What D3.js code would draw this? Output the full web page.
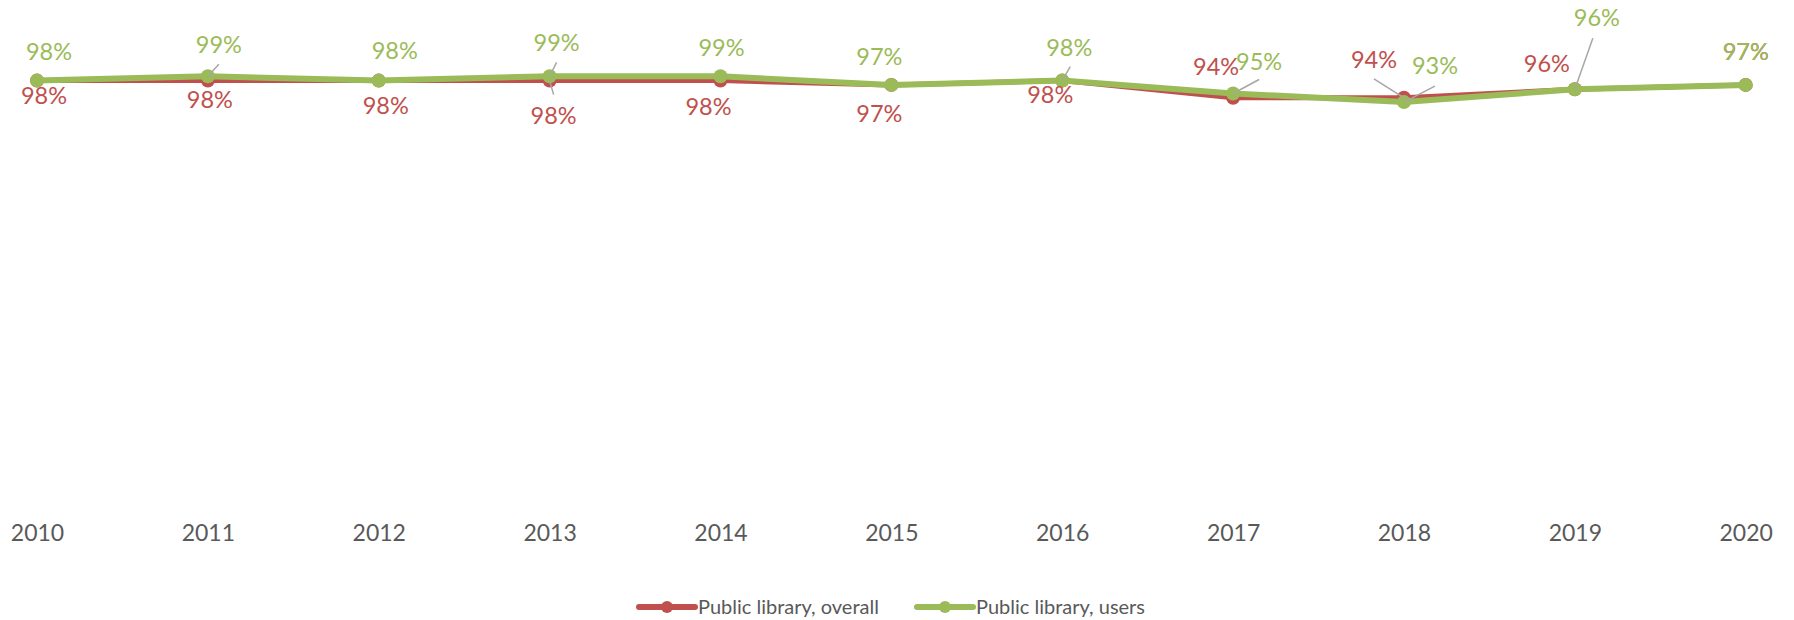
<!DOCTYPE html>
<html>
<head>
<meta charset="utf-8">
<script src="https://cdn.jsdelivr.net/npm/d3@7"></script>
<style>
  body { margin: 0; background: #fff; }
  svg { display: block; font-family: Lato, "Open Sans", sans-serif; }
</style>
</head>
<body>
<svg id="chart" width="1794" height="620"></svg>
<script>
const years = [2010, 2011, 2012, 2013, 2014, 2015, 2016, 2017, 2018, 2019, 2020];
const overall = [98, 98, 98, 98, 98, 97, 98, 94, 94, 96, 97];
const users = [98, 99, 98, 99, 99, 97, 98, 95, 93, 96, 97];
const seriesNames = ["Public library, overall", "Public library, users"];

// manual label placement (px from the point), like the hand-moved Excel labels
const overallLabelPos = [[7, 23], [2, 27], [7, 33], [4, 43], [-12, 34], [-12, 37], [-12, 22], [-17, -23], [-30, -30], [-28, -17], [0, -25]];
const usersLabelPos = [[12, -21], [11, -23], [16, -22], [7, -25], [1, -20], [-12, -20], [7, -25], [26, -24], [31, -28], [22, -63], [0, -25]];
const overallLeaders = [null, null, null, [4, 14], null, null, null, null, [-30, -19], null, null];
const usersLeaders = [null, [11, -12], null, [7, -14], null, null, [8, -14], [26, -14], [31, -16], [18, -51], null];

const red = "#C0504D", green = "#9BBB59";

const svg = d3.select("#chart");

const x = d3.scalePoint()
    .domain(years)
    .range([37, 1745.7]);

const y = d3.scaleLinear()
    .domain([0, 100])
    .range([502, 72]);

// category axis, no line, no ticks
const xAxis = svg.append("g")
    .attr("transform", "translate(0,502)")
    .call(d3.axisBottom(x).tickSize(0).tickPadding(23));
xAxis.select(".domain").remove();
xAxis.selectAll("text")
    .attr("font-size", 23)
    .attr("font-family", "Lato, 'Open Sans', sans-serif")
    .attr("fill", "#595959");

const series = [
    { name: seriesNames[0], values: overall, color: red, width: 5, pos: overallLabelPos, leaders: overallLeaders },
    { name: seriesNames[1], values: users, color: green, width: 6, pos: usersLabelPos, leaders: usersLeaders }
];

const line = d3.line()
    .x((d, i) => x(years[i]))
    .y(d => y(d));

series.forEach(s => {
    const g = svg.append("g");
    g.append("path")
        .datum(s.values)
        .attr("fill", "none")
        .attr("stroke", s.color)
        .attr("stroke-width", s.width)
        .attr("stroke-linejoin", "round")
        .attr("d", line);
    g.selectAll("circle")
        .data(s.values)
        .enter().append("circle")
        .attr("cx", (d, i) => x(years[i]))
        .attr("cy", d => y(d))
        .attr("r", 7)
        .attr("fill", s.color);
});

// leader lines then labels
series.forEach(s => {
    svg.append("g").selectAll("line")
        .data(s.values.map((v, i) => ({ v: v, i: i, l: s.leaders[i] })).filter(d => d.l))
        .enter().append("line")
        .attr("x1", d => x(years[d.i]))
        .attr("y1", d => y(d.v))
        .attr("x2", d => x(years[d.i]) + d.l[0])
        .attr("y2", d => y(d.v) + d.l[1])
        .attr("stroke", "#A6A6A6")
        .attr("stroke-width", 1.5);
});

series.forEach(s => {
    svg.append("g").selectAll("text")
        .data(s.values)
        .enter().append("text")
        .attr("x", (d, i) => x(years[i]) + s.pos[i][0])
        .attr("y", (d, i) => y(d) + s.pos[i][1])
        .attr("text-anchor", "middle")
        .attr("font-size", 23.5)
        .attr("fill", s.color)
        .text(d => d + "%");
});

// legend
const legendX = [639, 917];
const legend = svg.append("g").attr("transform", "translate(0,607)");
series.forEach((s, k) => {
    const lg = legend.append("g").attr("transform", "translate(" + legendX[k] + ",0)");
    lg.append("line")
        .attr("x1", 0).attr("x2", 56)
        .attr("stroke", s.color)
        .attr("stroke-width", 6)
        .attr("stroke-linecap", "round");
    lg.append("circle")
        .attr("cx", 28).attr("r", 6)
        .attr("fill", s.color);
    lg.append("text")
        .attr("x", 59)
        .attr("dy", "0.35em")
        .attr("font-size", 20)
        .attr("fill", "#595959")
        .text(s.name);
});
</script>
</body>
</html>
